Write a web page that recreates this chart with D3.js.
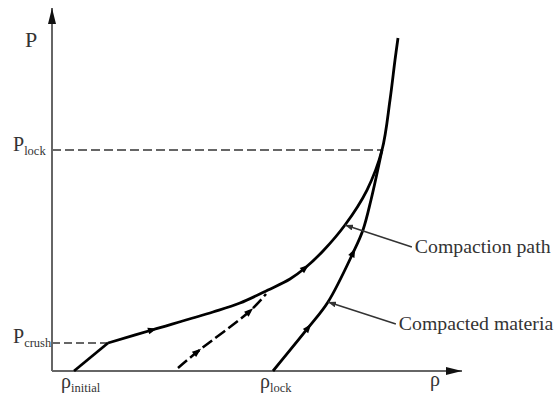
<!DOCTYPE html>
<html>
<head>
<meta charset="utf-8">
<script src="https://cdn.jsdelivr.net/npm/d3@7/dist/d3.min.js"></script>
<style>
  body { margin: 0; background: #fff; }
  svg { display: block; }
</style>
</head>
<body>
<script>
// values, in axis units (0-100 on both axes)
const rhoInitial = 5.37;
const rhoLock = 53.9;
const pCrush = 7.71;
const pLock = 60.88;

// elastic part from rho_initial up to P_crush
const elasticPts = [[5.37, 0], [13.66, 7.71]];

// compaction path from crush point to top
const compactionPts = [
  [13.66, 7.71], [24.39, 11.29], [39.27, 16.25], [45.85, 18.73], [52.68, 22.31],
  [58.05, 25.34], [61.71, 28.37], [66.1, 33.06], [71.46, 40.22], [76.83, 49.86],
  [80.49, 60.88], [82.44, 74.66], [83.66, 85.67], [84.39, 91.74]
];

// dashed unload / reload line
const dashedPts = [[30.73, 0.83], [35.37, 5.23], [48.29, 16.53], [52.2, 21.21]];

// compacted material curve from rho_lock to P_lock
const compactedPts = [
  [53.9, 0], [62.44, 11.85], [67.32, 19.01], [73.41, 32.51], [75.85, 38.84],
  [77.8, 47.11], [80.49, 60.88]
];

// where the little arrow heads sit on each curve
const compactionArrows = [[24.39, 11.29], [61.71, 28.37]];
const dashedArrows = [[35.37, 5.23], [48.29, 16.25]];
const compactedArrows = [[62.44, 11.85], [73.41, 32.51]];

// callouts: point on curve -> text (second one is cut at the edge in the original)
const callouts = [
  { text: "Compaction path", at: [71.46, 40.22], label: [88.5, 32.5] },
  { text: "Compacted materia", at: [67.32, 19.01], label: [84.6, 11.3] }
];

const width = 556;
const height = 408;
const serif = '"Liberation Serif", "Times New Roman", serif';

const x = d3.scaleLinear().domain([0, 100]).range([52, 462]);
const y = d3.scaleLinear().domain([0, 100]).range([371, 8]);

const svg = d3.select("body").append("svg")
  .attr("width", width)
  .attr("height", height)
  .style("overflow", "hidden");

const defs = svg.append("defs");
defs.append("marker")
  .attr("id", "axisArrow")
  .attr("viewBox", "0 0 16 8")
  .attr("refX", 16).attr("refY", 4)
  .attr("markerWidth", 16).attr("markerHeight", 8)
  .attr("markerUnits", "userSpaceOnUse")
  .attr("orient", "auto")
  .append("path").attr("d", "M0,0L16,4L0,8Z").attr("fill", "#111");

defs.append("marker")
  .attr("id", "ptrArrow")
  .attr("viewBox", "0 0 8 6")
  .attr("refX", 8).attr("refY", 3)
  .attr("markerWidth", 8).attr("markerHeight", 6)
  .attr("markerUnits", "userSpaceOnUse")
  .attr("orient", "auto")
  .append("path").attr("d", "M0,0L8,3L0,6Z").attr("fill", "#333");

// axes (no ticks, just the domain line with an arrow)
const xAxis = svg.append("g")
  .attr("transform", `translate(0,${y(0)})`)
  .call(d3.axisBottom(x).tickValues([]).tickSizeOuter(0));
const yAxis = svg.append("g")
  .attr("transform", `translate(${x(0)},0)`)
  .call(d3.axisLeft(y).tickValues([]).tickSizeOuter(0));

xAxis.select(".domain").attr("stroke", "#666").attr("stroke-width", 2)
  .attr("d", `M${x(0)},0H${x(100)}`).attr("marker-end", "url(#axisArrow)");
yAxis.select(".domain").attr("stroke", "#666").attr("stroke-width", 2)
  .attr("d", `M0,${y(0)}V${y(100)}`).attr("marker-end", "url(#axisArrow)");

// gray dashed guides for P_lock and P_crush
svg.append("line")
  .attr("x1", x(0)).attr("x2", x(80.49)).attr("y1", y(pLock)).attr("y2", y(pLock))
  .attr("stroke", "#666").attr("stroke-width", 2).attr("stroke-dasharray", "9,4");
svg.append("line")
  .attr("x1", x(0)).attr("x2", x(13.66)).attr("y1", y(pCrush)).attr("y2", y(pCrush))
  .attr("stroke", "#666").attr("stroke-width", 2).attr("stroke-dasharray", "8,4");

const line = d3.line().x(d => x(d[0])).y(d => y(d[1]));
const smooth = d3.line().x(d => x(d[0])).y(d => y(d[1])).curve(d3.curveCatmullRom.alpha(0.5));

svg.append("path").datum(elasticPts).attr("d", line)
  .attr("fill", "none").attr("stroke", "#000").attr("stroke-width", 2.8);
const compactionPath = svg.append("path").datum(compactionPts).attr("d", smooth)
  .attr("fill", "none").attr("stroke", "#000").attr("stroke-width", 2.8);
const dashedPath = svg.append("path").datum(dashedPts).attr("d", smooth)
  .attr("fill", "none").attr("stroke", "#000").attr("stroke-width", 2.5)
  .attr("stroke-dasharray", "12,4");
const compactedPath = svg.append("path").datum(compactedPts).attr("d", smooth)
  .attr("fill", "none").attr("stroke", "#000").attr("stroke-width", 2.8);

// place small arrow heads on a path near the given points, facing along the path
function addArrows(path, pts) {
  const node = path.node();
  const len = node.getTotalLength();
  pts.forEach(p => {
    const px = x(p[0]), py = y(p[1]);
    let best = 0, bestD = Infinity;
    for (let l = 0; l <= len; l += 0.5) {
      const q = node.getPointAtLength(l);
      const dd = (q.x - px) ** 2 + (q.y - py) ** 2;
      if (dd < bestD) { bestD = dd; best = l; }
    }
    const a = node.getPointAtLength(Math.max(0, best - 2));
    const b = node.getPointAtLength(Math.min(len, best + 2));
    const ang = Math.atan2(b.y - a.y, b.x - a.x) * 180 / Math.PI;
    const c = node.getPointAtLength(best);
    svg.append("path")
      .attr("d", "M5,0L-4,-3.4L-4,3.4Z")
      .attr("fill", "#000")
      .attr("transform", `translate(${c.x},${c.y}) rotate(${ang})`);
  });
}
addArrows(compactionPath, compactionArrows);
addArrows(dashedPath, dashedArrows);
addArrows(compactedPath, compactedArrows);

// callout lines and texts
callouts.forEach(c => {
  svg.append("line")
    .attr("x1", x(c.label[0]) - 3).attr("y1", y(c.label[1]) - 6)
    .attr("x2", x(c.at[0])).attr("y2", y(c.at[1]))
    .attr("stroke", "#333").attr("stroke-width", 1.5)
    .attr("marker-end", "url(#ptrArrow)");
  svg.append("text")
    .attr("x", x(c.label[0])).attr("y", y(c.label[1]))
    .style("font-family", serif)
    .style("font-size", "19.8px")
    .attr("fill", "#333")
    .text(c.text);
});

// axis labels
svg.append("text").attr("x", 25).attr("y", 47)
  .style("font-family", serif).style("font-size", "22px").attr("fill", "#333").text("P");
svg.append("text").attr("x", 430).attr("y", 386)
  .style("font-family", serif).style("font-size", "20px").attr("fill", "#333").text("ρ");

function subLabel(xp, yp, main, sub) {
  const t = svg.append("text").attr("x", xp).attr("y", yp)
    .style("font-family", serif).attr("fill", "#333");
  t.append("tspan").style("font-size", "20px").text(main);
  t.append("tspan").style("font-size", "12.5px").attr("dy", 4).text(sub);
}
subLabel(13, 151, "P", "lock");
subLabel(13, 343, "P", "crush");
subLabel(x(rhoInitial) - 13, 388, "ρ", "initial");
subLabel(x(rhoLock) - 13, 388, "ρ", "lock");
</script>
</body>
</html>
